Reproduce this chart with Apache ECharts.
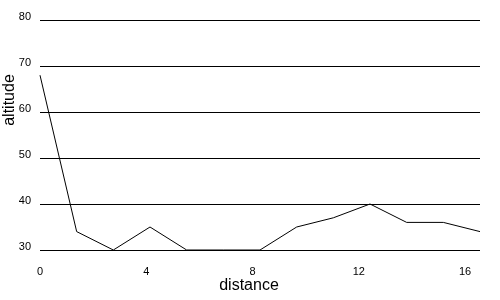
<!DOCTYPE html>
<html>
<head>
<meta charset="utf-8">
<script src="https://cdn.jsdelivr.net/npm/echarts@6/dist/echarts.min.js"></script>
<style>html,body{margin:0;padding:0;background:#fff}#c{width:500px;height:300px}</style>
</head>
<body>
<div id="c"></div>
<script>
const distance = [0, 1.38, 2.76, 4.14, 5.52, 6.9, 8.28, 9.66, 11.04, 12.42, 13.8, 15.18, 16.56];
const altitude = [68, 34, 30, 35, 30, 30, 30, 35, 37, 40, 36, 36, 34];
const xTicks = [0, 4, 8, 12, 16];
const yTicks = [30, 40, 50, 60, 70, 80];

const chart = echarts.init(document.getElementById('c'), null, {renderer: 'canvas'});
const font = 'Liberation Sans, Arial, sans-serif';
chart.setOption({
  animation: false,
  backgroundColor: '#fff',
  grid: {left: 40, right: 20, top: 20, bottom: 50, containLabel: false, outerBoundsMode: 'none'},
  xAxis: {
    type: 'value',
    min: xTicks[0],
    max: distance[distance.length - 1],
    interval: 4,
    name: 'distance',
    nameLocation: 'middle',
    nameGap: 28,
    nameMoveOverlap: false,
    nameTextStyle: {fontFamily: font, fontSize: 16, color: '#000', padding: [0, 22, 0, 0]},
    axisLine: {show: false},
    axisTick: {show: false},
    splitLine: {show: false},
    axisLabel: {
      fontFamily: font, fontSize: 11, color: '#000', margin: 16, showMaxLabel: false,
      formatter: v => xTicks.includes(v) ? String(v) : ''
    }
  },
  yAxis: {
    type: 'value',
    min: yTicks[0],
    max: yTicks[yTicks.length - 1],
    interval: 10,
    name: 'altitude',
    nameLocation: 'middle',
    nameGap: 22,
    nameMoveOverlap: false,
    nameTextStyle: {fontFamily: font, fontSize: 16, color: '#000', padding: [0, 0, 0, 70]},
    axisLine: {show: false},
    axisTick: {show: false},
    splitLine: {show: true, lineStyle: {color: '#000', width: 1}},
    axisLabel: {fontFamily: font, fontSize: 11, color: '#000', margin: 9, verticalAlign: 'bottom', lineHeight: 6}
  },
  series: [{
    type: 'line',
    data: distance.map((d, i) => [d, altitude[i]]),
    symbol: 'none',
    lineStyle: {color: '#000', width: 1},
    clip: false
  }]
});
</script>
</body>
</html>
